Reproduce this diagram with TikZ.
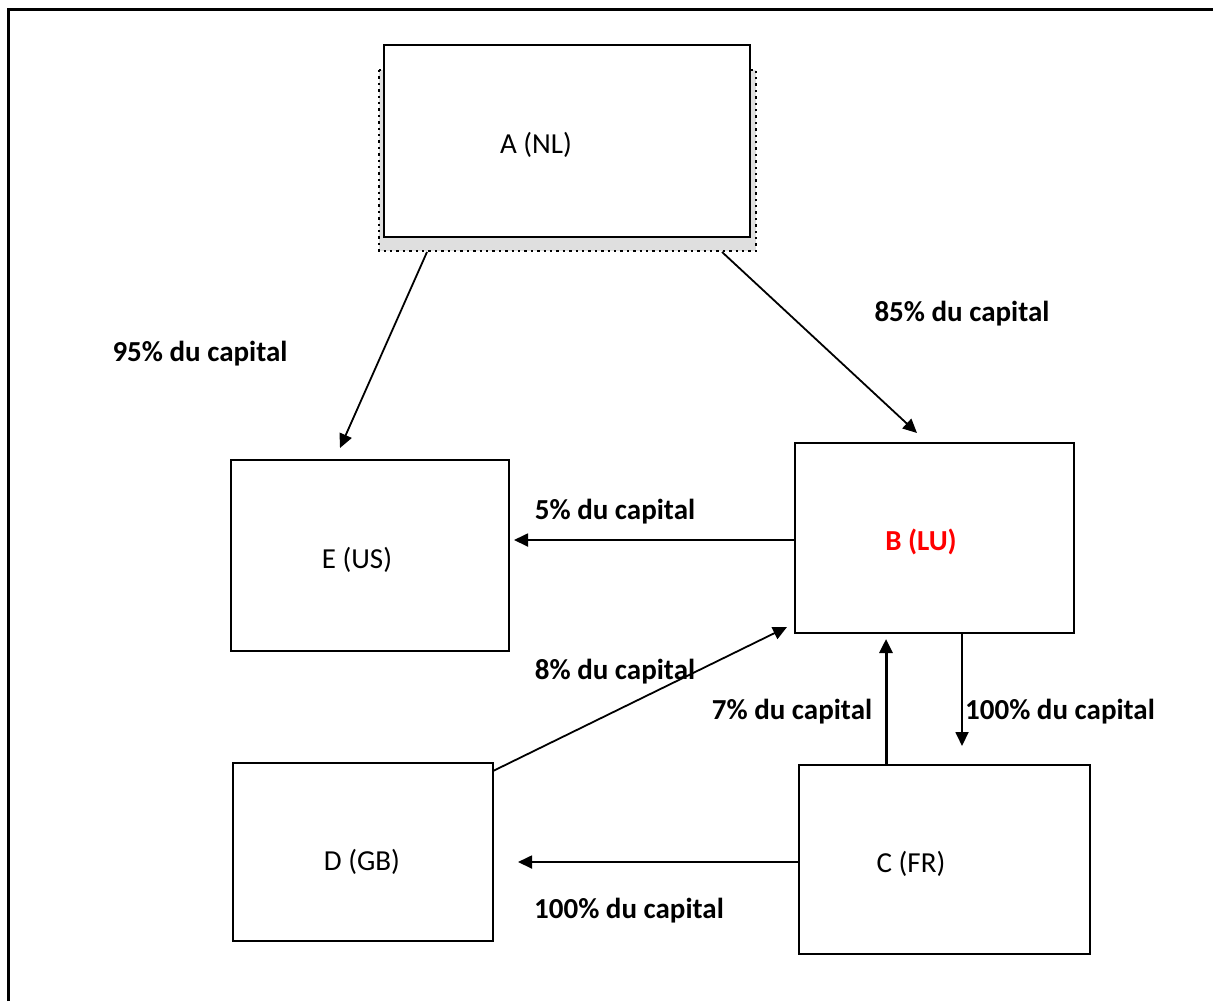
\documentclass[tikz,border=0pt]{standalone}
\usepackage{fontspec}
\setmainfont{Carlito}
\usetikzlibrary{arrows.meta}
\begin{document}
\begin{tikzpicture}[x=0.5pt,y=-0.5pt,
    box/.style={draw,line width=1pt,fill=white,inner sep=0pt},
    txt/.style={font=\fontsize{14.5}{17}\selectfont,inner sep=0pt,yshift=-1pt},
    pct/.style={font=\fontsize{14.5}{17}\selectfont\bfseries,inner sep=0pt,yshift=-1.2pt},
    link/.style={line width=0.9pt,-{Triangle[length=7pt,width=6.5pt]}}]
        \useasboundingbox (0,0) rectangle (1213,1001);

        % Rahmen
        \draw[line width=1.5pt] (8,1001) -- (8,9) -- (1213,9);

        % Gesellschaften
        \draw[dotted,line width=1.2pt,fill=gray!25] (379,70) rectangle (756,251);
        \node[box,minimum width=183pt,minimum height=96pt] (a) at (567,141) {};
        \node[txt] (a-t) at (536,143) {A (NL)};
        \node[box,minimum width=139pt,minimum height=95.5pt] (e) at (370,555.5) {};
        \node[txt] (e-t) at (357,558) {E (US)};
        \node[box,minimum width=139.5pt,minimum height=95pt] (b) at (934.5,538) {};
        \node[txt,font=\fontsize{14.5}{17}\selectfont\bfseries,text=red] (b-t) at (921,540) {B (LU)};
        \node[box,minimum width=130pt,minimum height=89pt] (d) at (363,852) {};
        \node[txt] (d-t) at (362,860) {D (GB)};
        \node[box,minimum width=145.5pt,minimum height=94.5pt] (c) at (944.5,859.5) {};
        \node[txt] (c-t) at (911,862) {C (FR)};

        % Enden
        \coordinate (ae0) at (427,252);
        \coordinate (ae1) at (340,448);
        \coordinate (ab0) at (722,252);
        \coordinate (ab1) at (917,433);
        \coordinate (be1) at (514,540);
        \coordinate (db0) at (493,771);
        \coordinate (db1) at (787,627);
        \coordinate (cb0) at (886,765);
        \coordinate (cb1) at (886,639);
        \coordinate (bc0) at (962,633);
        \coordinate (bc1) at (962,746);
        \coordinate (cd1) at (518,862);

        % Beteiligungen
        \draw[link] (ae0) -- (ae1);
        \draw[link] (ab0) -- (ab1);
        \draw[link] (b.west |- be1) -- (be1);
        \draw[link] (db0) -- (db1);
        \draw[link,line width=1.5pt] (cb0) -- (cb1);
        \draw[link] (bc0) -- (bc1);
        \draw[link] (c.west |- cd1) -- (cd1);

        % Anteile
        \node[pct] (l-ae) at (200,351) {95\% du capital};
        \node[pct] (l-ab) at (962,311) {85\% du capital};
        \node[pct] (l-be) at (615,509) {5\% du capital};
        \node[pct] (l-db) at (615,669) {8\% du capital};
        \node[pct] (l-cb) at (792,709) {7\% du capital};
        \node[pct] (l-bc) at (1060,709) {100\% du capital};
        \node[pct] (l-cd) at (629,908) {100\% du capital};
    \end{tikzpicture}
\end{document}
